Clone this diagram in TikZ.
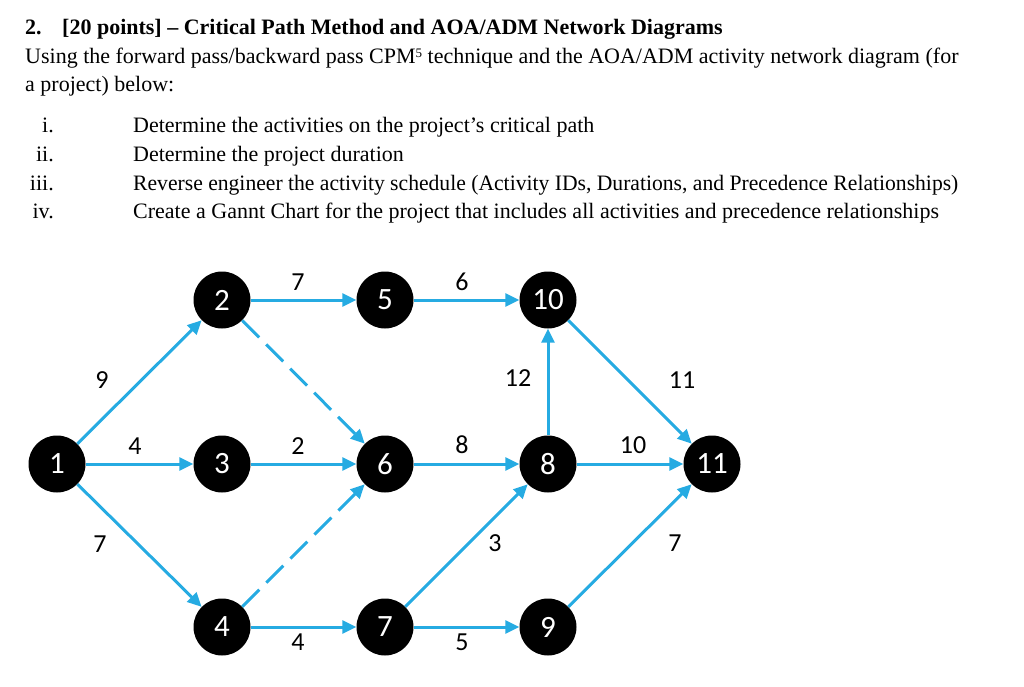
\documentclass[tikz,border=0pt]{standalone}
\usepackage{fontspec}
\setmainfont{Liberation Serif}
\newfontfamily\calibri{Carlito}
\usetikzlibrary{arrows.meta}
\definecolor{netblue}{RGB}{38,171,226}

\begin{document}
\begin{tikzpicture}[x=1pt,y=-1pt]
                \tikzset{vertex/.style = {shape=circle,fill=black,text=white,minimum size=57pt,inner sep=0pt,font=\calibri\fontsize{31}{31}\selectfont}}
                \tikzset{edge/.style = {-{Triangle[length=14pt,width=13pt]},draw=netblue,line width=3pt}}
                \tikzset{dummy/.style = {edge,dash pattern=on 24pt off 10pt}}
                \tikzset{weight/.style = {inner sep=0pt,font=\calibri\fontsize{26}{26}\selectfont}}
                \tikzset{line/.style = {anchor=base west,inner sep=0pt,font=\fontsize{22}{26}\selectfont}}
                \tikzset{num/.style = {anchor=base east,inner sep=0pt,font=\fontsize{22}{26}\selectfont}}
                \useasboundingbox (0,0) rectangle (1024,687);

                % question text
                \node[line,font=\fontsize{22}{26}\selectfont\bfseries] (qnum) at (25,35) {2.};
                \node[line,font=\fontsize{22}{26}\selectfont\bfseries] (qtitle) at (62,35) {[20 points] – Critical Path Method and AOA/ADM Network Diagrams};
                \node[line] (qtext1) at (25,64) {Using the forward pass/backward pass CPM\raisebox{6pt}{\fontsize{13}{13}\selectfont 5} technique and the AOA/ADM activity network diagram (for};
                \node[line] (qtext2) at (25,92) {a project) below:};
                \node[num] (n1) at (54,133) {i.};
                \node[num] (n2) at (54,161) {ii.};
                \node[num] (n3) at (54,190) {iii.};
                \node[num] (n4) at (54,218) {iv.};
                \node[line] (t1) at (133,133) {Determine the activities on the project’s critical path};
                \node[line] (t2) at (133,161) {Determine the project duration};
                \node[line,xscale=0.983,transform shape] (t3) at (133,190) {Reverse engineer the activity schedule (Activity IDs, Durations, and Precedence Relationships)};
                \node[line] (t4) at (133,218) {Create a Gannt Chart for the project that includes all activities and precedence relationships};

                % vertices
                \node[vertex] (1) at (57,464) {1};
                \node[vertex] (2) at (222,300) {2};
                \node[vertex] (3) at (222,464) {3};
                \node[vertex] (4) at (222,627) {4};
                \node[vertex] (5) at (385,300) {5};
                \node[vertex] (6) at (385,464) {6};
                \node[vertex] (7) at (385,627) {7};
                \node[vertex] (10) at (548,300) {10};
                \node[vertex] (8) at (548,464) {8};
                \node[vertex] (9) at (548,627) {9};
                \node[vertex] (11) at (712,464) {11};

                %edges
                \draw[edge] (1) to (2);
                \draw[edge] (1) to (3);
                \draw[edge] (1) to (4);
                \draw[edge] (2) to (5);
                \draw[dummy] (2) to (6);
                \draw[edge] (3) to (6);
                \draw[dummy] (4) to (6);
                \draw[edge] (4) to (7);
                \draw[edge] (5) to (10);
                \draw[edge] (6) to (8);
                \draw[edge] (7) to (8);
                \draw[edge] (7) to (9);
                \draw[edge] (8) to (10);
                \draw[edge] (8) to (11);
                \draw[edge] (10) to (11);
                \draw[edge] (9) to (11);

                % durations
                \node[weight] (d12) at (102,380) {9};
                \node[weight] (d13) at (135,446) {4};
                \node[weight] (d14) at (100,544) {7};
                \node[weight] (d25) at (298,282) {7};
                \node[weight] (d36) at (298,446) {2};
                \node[weight] (d47) at (298,642) {4};
                \node[weight] (d510) at (462,282) {6};
                \node[weight] (d68) at (462,445) {8};
                \node[weight] (d78) at (495,543) {3};
                \node[weight] (d79) at (462,642) {5};
                \node[weight] (d810) at (518,378) {12};
                \node[weight] (d811) at (633,445) {10};
                \node[weight] (d1011) at (682,380) {11};
                \node[weight] (d911) at (675,543) {7};
            \end{tikzpicture}
\end{document}
